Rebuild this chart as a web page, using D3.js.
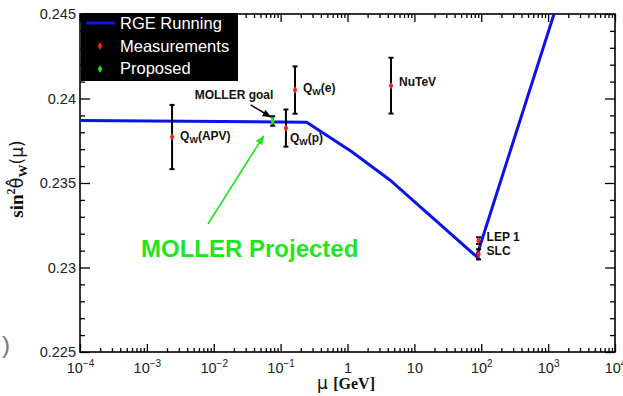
<!DOCTYPE html>
<html>
<head>
<meta charset="utf-8">
<script src="https://cdn.jsdelivr.net/npm/d3@7"></script>
<style>
body { margin: 0; background: #fff; }
text { font-family: "Liberation Sans", Arial, sans-serif; }
</style>
</head>
<body>
<script>
// RGE running curve (knots)
var rgeMu  = [1e-4, 0.245, 1.16, 4.3, 85, 1224];
var rgeVal = [0.2387, 0.2386, 0.23685, 0.23518, 0.23064, 0.245];

// measurements
var measNames = ["APV", "p", "e", "NuTeV", "LEP 1", "SLC"];
var measMu    = [0.00238, 0.12, 0.164, 4.47, 91.2, 91.2];
var measVal   = [0.23772, 0.23825, 0.2405, 0.24076, 0.23159, 0.23078];
var measErr   = [0.0019, 0.0011, 0.0014, 0.00165, 0.0002, 0.0003];

// proposed
var propMu = [0.076];
var propVal = [0.23867];
var propErr = [0.00028];

var xTicks = [1e-4, 1e-3, 1e-2, 1e-1, 1, 10, 1e2, 1e3, 1e4];
var xTickBase = ["10", "10", "10", "10", "1", "10", "10", "10", "10"];
var xTickExp  = ["\u22124", "\u22123", "\u22122", "\u22121", "", "", "2", "3", "4"];
var yTicks = [0.225, 0.23, 0.235, 0.24, 0.245];
var yTickLabels = ["0.225", "0.23", "0.235", "0.24", "0.245"];

var W = 623, H = 396;
var m = {left: 80, right: 8, top: 14, bottom: 44};

var svg = d3.select("body").append("svg")
  .attr("width", W).attr("height", H);

var x = d3.scaleLog().domain([1e-4, 1e4]).range([m.left, W - m.right]);
var y = d3.scaleLinear().domain([0.225, 0.245]).range([H - m.bottom, m.top]);

// minor ticks
var xMinor = [];
for (var d = -4; d < 4; d++) for (var k = 2; k < 10; k++) xMinor.push(k * Math.pow(10, d));
var yMinor = d3.range(0.225, 0.2451, 0.001).filter(function(v) {
  return Math.abs(v * 200 - Math.round(v * 200)) > 1e-6;
});

function tickAxis(axis, g) {
  g.call(axis);
  g.select(".domain").remove();
  g.selectAll("line").attr("stroke", "#000").attr("stroke-width", 1.3);
}

// bottom
var gb = svg.append("g").attr("transform", "translate(0," + (H - m.bottom) + ")");
tickAxis(d3.axisBottom(x).tickValues(xMinor).tickSize(-4).tickFormat(""), gb.append("g"));
var gbMaj = gb.append("g");
tickAxis(d3.axisBottom(x).tickValues(xTicks).tickSize(-8).tickFormat(""), gbMaj);
gbMaj.selectAll("text").each(function(v, i) {
  var t = d3.select(this).attr("fill", "#222").style("font-size", "14.5px").attr("dy", "0");
  t.append("tspan").text(xTickBase[i]);
  if (xTickExp[i]) t.append("tspan").attr("dy", "-6").style("font-size", "10px").text(xTickExp[i]);
});
gbMaj.selectAll("text").attr("y", 21);

// top
var gt = svg.append("g").attr("transform", "translate(0," + m.top + ")");
tickAxis(d3.axisTop(x).tickValues(xMinor).tickSize(-4).tickFormat(""), gt.append("g"));
tickAxis(d3.axisTop(x).tickValues(xTicks).tickSize(-8).tickFormat(""), gt.append("g"));

// left
var gl = svg.append("g").attr("transform", "translate(" + m.left + ",0)");
tickAxis(d3.axisLeft(y).tickValues(yMinor).tickSize(-5).tickFormat(""), gl.append("g"));
var glMaj = gl.append("g");
tickAxis(d3.axisLeft(y).tickValues(yTicks).tickSize(-10).tickPadding(4)
  .tickFormat(function(v, i) { return yTickLabels[i]; }), glMaj);
glMaj.selectAll("text").attr("x", -4).attr("fill", "#222").style("font-size", "14.5px");

// right
var gr = svg.append("g").attr("transform", "translate(" + (W - m.right) + ",0)");
tickAxis(d3.axisRight(y).tickValues(yMinor).tickSize(-5).tickFormat(""), gr.append("g"));
tickAxis(d3.axisRight(y).tickValues(yTicks).tickSize(-10).tickFormat(""), gr.append("g"));

// frame
svg.append("rect")
  .attr("x", m.left).attr("y", m.top)
  .attr("width", W - m.left - m.right).attr("height", H - m.top - m.bottom)
  .attr("fill", "none").attr("stroke", "#000").attr("stroke-width", 1.6);

// clip
svg.append("clipPath").attr("id", "plot").append("rect")
  .attr("x", m.left).attr("y", m.top)
  .attr("width", W - m.left - m.right).attr("height", H - m.top - m.bottom);

// RGE line
var rge = rgeMu.map(function(v, i) { return [v, rgeVal[i]]; });
svg.append("path")
  .datum(rge)
  .attr("clip-path", "url(#plot)")
  .attr("fill", "none").attr("stroke", "#0a14e6").attr("stroke-width", 3)
  .attr("d", d3.line().x(function(d) { return x(d[0]); }).y(function(d) { return y(d[1]); }));

// error bars + markers
function drawPoints(mu, val, err, color) {
  var g = svg.append("g");
  mu.forEach(function(v, i) {
    var cx = x(v), top = y(val[i] + err[i]), bot = y(val[i] - err[i]);
    g.append("line").attr("x1", cx).attr("x2", cx).attr("y1", top).attr("y2", bot)
      .attr("stroke", "#000").attr("stroke-width", 2);
    [top, bot].forEach(function(yy) {
      g.append("line").attr("x1", cx - 2.5).attr("x2", cx + 2.5).attr("y1", yy).attr("y2", yy)
        .attr("stroke", "#000").attr("stroke-width", 2);
    });
    g.append("path")
      .attr("transform", "translate(" + cx + "," + y(val[i]) + ")")
      .attr("d", d3.symbol(d3.symbolDiamond, 18)())
      .attr("fill", color);
  });
}
drawPoints(measMu, measVal, measErr, "#ff1a1a");
drawPoints(propMu, propVal, propErr, "#1ee61e");

// point labels
var labelOff = [[8, 3], [4, 14], [8, 2], [8, 0], [8, 0], [8, 1]];
measNames.forEach(function(n, i) {
  var t = svg.append("text")
    .attr("x", x(measMu[i]) + labelOff[i][0])
    .attr("y", y(measVal[i]) + labelOff[i][1])
    .style("font-size", "12px").style("font-weight", "bold").attr("fill", "#111");
  if (i < 3) {
    t.append("tspan").text("Q");
    t.append("tspan").attr("dy", 3).style("font-size", "9px").text("W");
    t.append("tspan").attr("dy", -3).text("(" + n + ")");
  } else {
    t.text(n);
  }
});

// MOLLER goal
svg.append("defs").html(
  '<marker id="ahb" viewBox="0 0 10 10" refX="9" refY="5" markerWidth="6" markerHeight="6" orient="auto">' +
  '<path d="M0,1 L10,5 L0,9 z" fill="#000"/></marker>' +
  '<marker id="ahg" viewBox="0 0 10 10" refX="9" refY="5" markerWidth="6" markerHeight="6" orient="auto">' +
  '<path d="M0,1 L10,5 L0,9 z" fill="#1ee61e"/></marker>');

svg.append("text").attr("x", x(propMu[0]) - 78).attr("y", y(propVal[0]) - 22)
  .style("font-size", "12px").style("font-weight", "bold").attr("fill", "#111")
  .text("MOLLER goal");
svg.append("line")
  .attr("x1", x(propMu[0]) - 22).attr("y1", y(propVal[0]) - 16)
  .attr("x2", x(propMu[0]) - 2).attr("y2", y(propVal[0]) - 4)
  .attr("stroke", "#000").attr("stroke-width", 1.5).attr("marker-end", "url(#ahb)");

// MOLLER projected
svg.append("line")
  .attr("x1", 208).attr("y1", 224)
  .attr("x2", x(propMu[0]) - 9).attr("y2", y(propVal[0]) + 15)
  .attr("stroke", "#1ee61e").attr("stroke-width", 1.6).attr("marker-end", "url(#ahg)");
svg.append("text").attr("x", 141).attr("y", 257)
  .style("font-size", "24px").style("font-weight", "bold").attr("fill", "#1ee61e")
  .text("MOLLER Projected");

// legend
var lg = svg.append("g");
lg.append("rect").attr("x", 81).attr("y", 13).attr("width", 157).attr("height", 68).attr("fill", "#000");
lg.append("line").attr("x1", 86).attr("x2", 115).attr("y1", 23).attr("y2", 23)
  .attr("stroke", "#0a14e6").attr("stroke-width", 3);
lg.append("path").attr("transform", "translate(100,46)").attr("d", d3.symbol(d3.symbolDiamond, 18)()).attr("fill", "#ff1a1a");
lg.append("path").attr("transform", "translate(100,69)").attr("d", d3.symbol(d3.symbolDiamond, 18)()).attr("fill", "#1ee61e");
var legendNames = ["RGE Running", "Measurements", "Proposed"];
legendNames.forEach(function(n, i) {
  lg.append("text").attr("x", 120).attr("y", 29 + i * 22.5)
    .style("font-size", "16.5px").attr("fill", "#fff").text(n);
});

// axis titles
var yt = svg.append("text").attr("transform", "translate(23,179) rotate(-90)")
  .attr("text-anchor", "middle").attr("fill", "#111")
  .style("font-family", "'Liberation Serif', 'Times New Roman', serif").style("font-size", "19px");
yt.append("tspan").style("font-weight", "bold").text("sin");
yt.append("tspan").attr("dy", -8).style("font-size", "12px").style("font-weight", "bold").text("2");
yt.append("tspan").attr("dy", 8).style("font-family", "'DejaVu Sans', sans-serif").style("font-size", "18px").text("\u03b8\u0302");
yt.append("tspan").attr("dy", 4).style("font-size", "13px").style("font-weight", "bold").text("W");
yt.append("tspan").attr("dy", -4).style("font-family", "'DejaVu Sans', sans-serif").style("font-size", "17px").text("(\u03bc)");

var xt = svg.append("text").attr("x", 346).attr("y", 389)
  .attr("text-anchor", "middle").attr("fill", "#111")
  .style("font-family", "'Liberation Serif', 'Times New Roman', serif").style("font-size", "16px");
xt.append("tspan").style("font-family", "'DejaVu Sans', sans-serif").style("font-size", "17px").text("\u03bc ");
xt.append("tspan").style("font-weight", "bold").text("[GeV]");

// stray glyph at left edge of the source image
svg.append("text").attr("x", 2).attr("y", 353).attr("fill", "#777")
  .style("font-size", "24px").text(")");
</script>
</body>
</html>
